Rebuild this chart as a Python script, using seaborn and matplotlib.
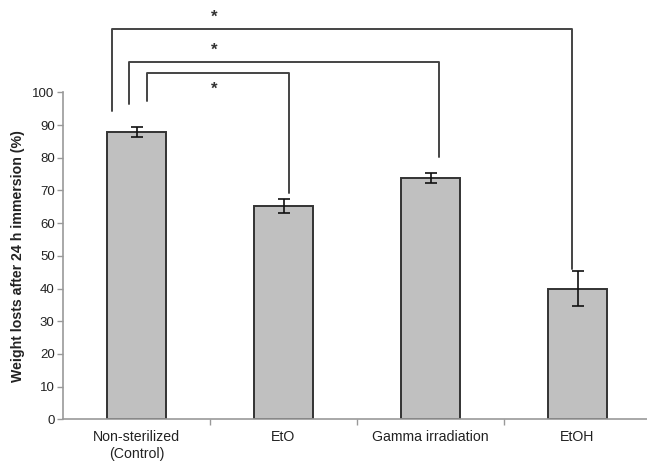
import pandas as pd
import matplotlib
matplotlib.use('Agg')
import matplotlib.pyplot as plt
import seaborn as sns

# Данные
groups = ['Non-sterilized\n(Control)', 'EtO', 'Gamma irradiation', 'EtOH']
weight_loss = [87.8, 65.3, 73.8, 39.9]
errors = [1.5, 2.2, 1.4, 5.4]

# Скобки значимости
brackets_left = [-0.17, -0.05, 0.07]
brackets_right = [2.96, 2.06, 1.04]
brackets_y = [119.3, 109.2, 105.8]
legs_left = [94.3, 96.4, 97.3]
legs_right = [45.9, 80.3, 69.3]
stars_y = [122.8, 113.0, 100.8]

df = pd.DataFrame({'group': groups, 'loss': weight_loss})

sns.set_style('white')
plt.rcParams['font.family'] = ['Liberation Sans', 'DejaVu Sans']

fig = plt.figure(figsize=(6.47, 4.65), dpi=100)
ax = fig.add_axes([63 / 647, 45.7 / 465, 588 / 647, 327 / 465])

sns.barplot(data=df, x='group', y='loss', color='#c0c0c0', width=0.4,
            edgecolor='#333333', linewidth=1.4, saturation=1, ax=ax)
ax.errorbar(range(len(groups)), weight_loss, yerr=errors, fmt='none',
            ecolor='#111111', elinewidth=1.2, capsize=4, capthick=1.2)

# Скобки со звёздочками
for xl, xr, yb, ll, lr, ys in zip(brackets_left, brackets_right, brackets_y,
                                  legs_left, legs_right, stars_y):
    ax.plot([xl, xl, xr, xr], [ll, yb, yb, lr], color='#444444', lw=1.4,
            clip_on=False)
    ax.text(0.53, ys, '*', ha='center', va='center', fontsize=12,
            fontweight='bold', color='#333333', clip_on=False)

ax.set_xlim(-0.5, 3.5)
ax.set_ylim(0, 100)
ax.set_yticks(range(0, 101, 10))
ax.set_xticks([0.5, 1.5, 2.5], minor=True)
ax.set_xticks(range(len(groups)))
ax.set_xticklabels(groups, linespacing=1.25)
ax.tick_params(axis='x', which='major', length=0, pad=8, labelsize=10.2,
               colors='#222222')
ax.tick_params(axis='x', which='minor', length=4, width=1, color='#999999',
               direction='out', bottom=True)
ax.tick_params(axis='y', length=4, width=1, color='#999999', direction='out',
               left=True, labelsize=9.5, labelcolor='#222222', pad=2)
ax.set_xlabel('')
ax.set_ylabel('Weight losts after 24 h immersion (%)', fontsize=10.2,
              fontweight='bold', color='#222222', labelpad=5)

for side in ['top', 'right']:
    ax.spines[side].set_visible(False)
for side in ['left', 'bottom']:
    ax.spines[side].set_color('#999999')
    ax.spines[side].set_linewidth(1.2)

fig.savefig('out.png', dpi=100)
